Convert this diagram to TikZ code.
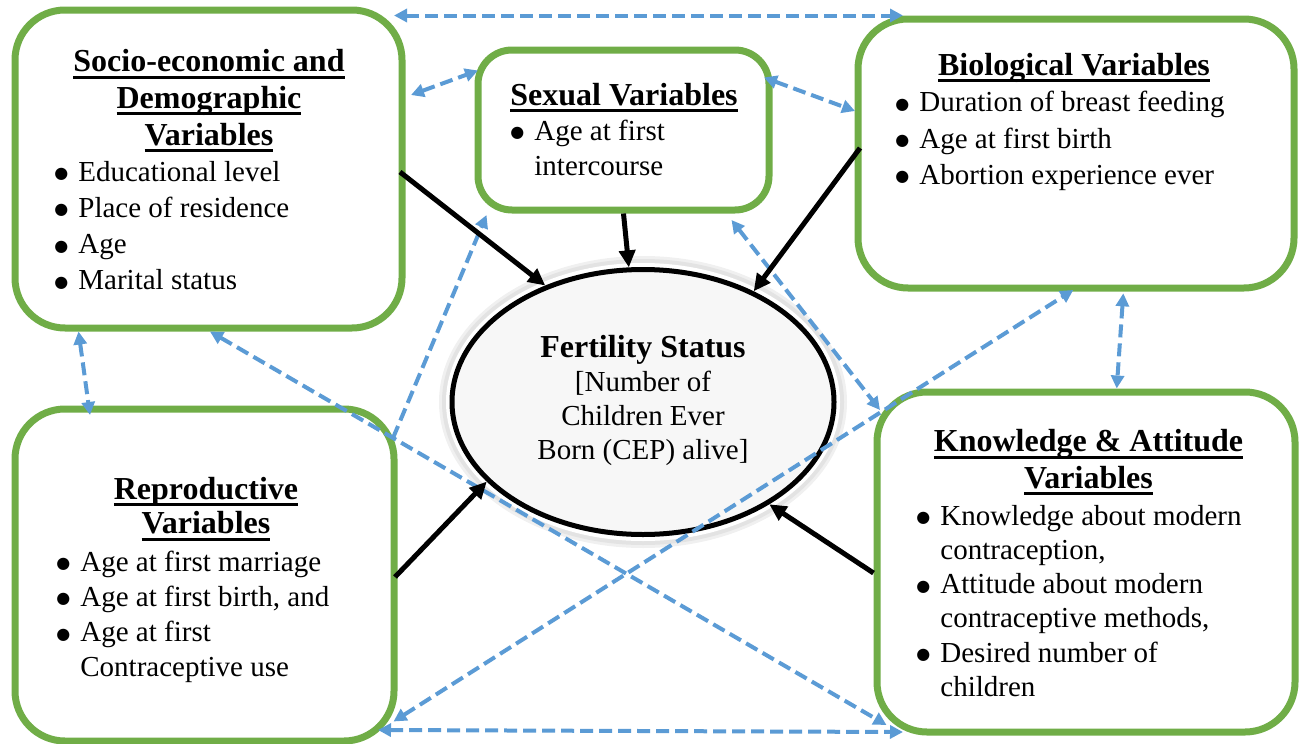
\documentclass[tikz,border=0pt]{standalone}
\usepackage{fontspec}
\setmainfont{Liberation Serif}
\newfontfamily\dotfont{DejaVu Sans}
\usetikzlibrary{arrows.meta,shapes.geometric}

\definecolor{vargreen}{HTML}{70AD47}
\definecolor{linkblue}{HTML}{5B9BD5}

\newcommand{\ulh}[1]{\setbox0=\hbox{#1}\rlap{\rule[-3.5pt]{\wd0}{1.5pt}}\box0}
\newcommand{\itm}{\makebox[11.5pt][l]{\hspace{-0.5pt}\raisebox{1.2pt}{\dotfont\fontsize{8}{8}\selectfont ●}}}
\newcommand{\itmx}{\hspace*{11.5pt}}

\tikzset{
  varbox/.style={draw=vargreen, line width=3.5pt, rounded corners=25pt, fill=white, inner sep=0pt},
  headtext/.style={inner sep=0pt, anchor=base, font=\bfseries\fontsize{16}{#1}\selectfont},
  itemtext/.style={inner sep=0pt, anchor=base west, font=\fontsize{14.5}{#1}\selectfont},
  linktip/.tip={Triangle[length=6.5pt,width=6.5pt]},
  linkarrow/.style={draw=linkblue, line width=2pt, dash pattern=on 6.5pt off 3pt, linktip-linktip},
  effectarrow/.style={draw=black, line width=2.5pt, -{Triangle[length=8.5pt,width=8pt]}},
}

\begin{document}
\begin{tikzpicture}[x=0.5pt, y=-0.5pt]
  \useasboundingbox (0,0) rectangle (1301,744);

  \node[varbox, minimum width=193.5pt, minimum height=159pt] (se) at (208.5,169) {};
  \node[varbox, rounded corners=17pt, minimum width=145.5pt, minimum height=80pt] (sexual) at (623.5,130) {};
  \node[varbox, minimum width=218pt, minimum height=134.5pt] (bio) at (1076,153.5) {};
  \node[varbox, minimum width=189.5pt, minimum height=166pt] (repro) at (204.5,575) {};
  \node[varbox, minimum width=209pt, minimum height=170pt] (ka) at (1086,562) {};

  \node[headtext=18.35] (se-head) at (209,71.7) {\begin{tabular}[t]{@{}c@{}}\ulh{Socio-economic and}\\\ulh{Demographic}\\\ulh{Variables}\end{tabular}};
  \node[itemtext=18.15] (se-list) at (55,181) {\begin{tabular}[t]{@{}l@{}}\itm Educational level\\\itm Place of residence\\\itm Age\\\itm Marital status\end{tabular}};

  \node[headtext=17.5] (sexual-head) at (624,105) {\ulh{Sexual Variables}};
  \node[itemtext=17.5] (sexual-list) at (511,140) {\begin{tabular}[t]{@{}l@{}}\itm Age at first\\\itmx intercourse\end{tabular}};

  \node[headtext=18] (bio-head) at (1074,75) {\ulh{Biological Variables}};
  \node[itemtext=18.15] (bio-list) at (896,111.7) {\begin{tabular}[t]{@{}l@{}}\itm Duration of breast feeding\\\itm Age at first birth\\\itm Abortion experience ever\end{tabular}};

  \node[headtext=17.25] (repro-head) at (206,499) {\begin{tabular}[t]{@{}c@{}}\ulh{Reproductive}\\\ulh{Variables}\end{tabular}};
  \node[itemtext=17.65] (repro-list) at (57,571) {\begin{tabular}[t]{@{}l@{}}\itm Age at first marriage\\\itm Age at first birth, and\\\itm Age at first\\\itmx Contraceptive use\end{tabular}};

  \node[headtext=18.3] (ka-head) at (1088.5,451.7) {\begin{tabular}[t]{@{}c@{}}\ulh{Knowledge \& Attitude}\\\ulh{Variables}\end{tabular}};
  \node[itemtext=17.15] (ka-list) at (917,525) {\begin{tabular}[t]{@{}l@{}}\itm Knowledge about modern\\\itmx contraception,\\\itm Attitude about modern\\\itmx contraceptive methods,\\\itm Desired number of\\\itmx children\end{tabular}};

  \coordinate (fc) at (643,402);
  \fill[gray!12] (fc) ellipse [x radius=102pt, y radius=73pt];
  \fill[gray!22] (fc) ellipse [x radius=100.5pt, y radius=71.5pt];
  \fill[white] (fc) ellipse [x radius=98.5pt, y radius=69.5pt];
  \node[ellipse, draw=black, line width=2.5pt, fill=gray!6, inner sep=0pt,
        minimum width=191pt, minimum height=132.5pt, font=\fontsize{14.5}{17}\selectfont] (fert) at (fc)
        {\begin{tabular}{@{}c@{}}{\bfseries\fontsize{16}{17}\selectfont Fertility Status}\\{[}Number of\\Children Ever\\Born (CEP) alive{]}\end{tabular}};

  \draw[linkarrow] ([shift={(-11.5,9)}]se.north east) -- ([shift={(48.5,0)}]bio.north west);
  \draw[linkarrow] ([shift={(5.5,88.5)}]se.north east) -- ([shift={(3.5,24)}]sexual.north west);
  \draw[linkarrow] ([shift={(-8.5,31)}]sexual.north east) -- ([shift={(0.5,95.5)}]bio.north west);
  \draw[linkarrow] ([shift={(67,0)}]se.south west) -- ([shift={(78.5,9.5)}]repro.north west);
  \draw[linkarrow] ([shift={(47.3,1.8)}]bio.south) -- ([shift={(30.7,0)}]ka.north);
  \draw[linkarrow] ([shift={(1.5,0)}]se.south) -- ([shift={(13,-10.5)}]ka.south west);
  \draw[linkarrow, -linktip] ([shift={(-4.5,32.5)}]repro.north east) -- ([shift={(12,1.5)}]sexual.south west);
  \draw[linkarrow] ([shift={(-41,6.5)}]sexual.south east) -- ([shift={(6.5,21.5)}]ka.north west);
  \draw[linkarrow] ([shift={(-4,-23)}]repro.south east) -- ([shift={(-2.7,-1.5)}]bio.south);
  \draw[linkarrow] ([shift={(-19.5,-14.5)}]repro.south east) -- ([shift={(29.5,-3.5)}]ka.south west);

  \draw[effectarrow] ([shift={(-5.5,3)}]se.east) -- (fert.130.8);
  \draw[effectarrow] (sexual.south) -- (fert.96.8);
  \draw[effectarrow] ([shift={(5.5,-5.5)}]bio.west) -- (fert.45);
  \draw[effectarrow] ([shift={(-2.5,2)}]repro.east) -- (fert.207.5);
  \draw[effectarrow] ([shift={(0,11)}]ka.west) -- (fert.321.8);
\end{tikzpicture}
\end{document}
